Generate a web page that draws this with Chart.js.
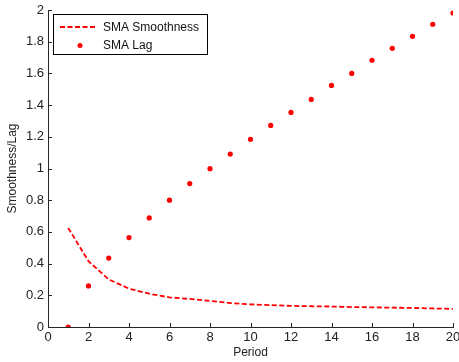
<!DOCTYPE html>
<html>
<head>
<meta charset="utf-8">
<script src="https://cdn.jsdelivr.net/npm/chart.js@4"></script>
<style>
html,body{margin:0;padding:0;background:#fff;}
#wrap{width:459px;height:362px;position:relative;}
</style>
</head>
<body>
<div id="wrap"><canvas id="c" width="459" height="362"></canvas></div>
<script>
const periods = [1,2,3,4,5,6,7,8,9,10,11,12,13,14,15,16,17,18,19,20];
const smoothness = [0.625,0.415,0.30,0.242,0.21,0.187,0.177,0.164,0.151,0.143,0.138,0.133,0.131,0.129,0.126,0.124,0.122,0.12,0.117,0.114];
const lag = [0,0.259,0.435,0.564,0.688,0.80,0.905,0.999,1.091,1.184,1.272,1.354,1.436,1.524,1.60,1.683,1.758,1.834,1.91,1.981];
const seriesNames = ['SMA Smoothness','SMA Lag'];
const xTitle = 'Period';
const yTitle = 'Smoothness/Lag';

const FONT = "'Liberation Sans', Arial, Helvetica, sans-serif";
const RED = '#ff0000';
const AXIS = '#262626';

const inwardTicks = {
  id: 'inwardTicks',
  afterDraw(chart) {
    const ctx = chart.ctx;
    const xs = chart.scales.x, ys = chart.scales.y;
    const a = chart.chartArea;
    ctx.save();
    ctx.strokeStyle = AXIS;
    ctx.lineWidth = 1;
    ctx.beginPath();
    xs.ticks.forEach(t => {
      const px = Math.round(xs.getPixelForValue(t.value)) + 0.5;
      ctx.moveTo(px, a.bottom);
      ctx.lineTo(px, a.bottom - 4);
    });
    ys.ticks.forEach(t => {
      const py = Math.round(ys.getPixelForValue(t.value)) + 0.5;
      ctx.moveTo(a.left, py);
      ctx.lineTo(a.left + 4, py);
    });
    ctx.stroke();
    ctx.restore();
  }
};

const boxLegend = {
  id: 'boxLegend',
  afterDraw(chart) {
    const ctx = chart.ctx;
    const ds = chart.data.datasets;
    const x0 = 53.5, y0 = 14.5, w = 154, h = 40;
    ctx.save();
    ctx.fillStyle = '#fff';
    ctx.fillRect(x0, y0, w, h);
    ctx.strokeStyle = '#000';
    ctx.lineWidth = 1;
    ctx.strokeRect(x0, y0, w, h);
    ctx.font = '12px ' + FONT;
    ctx.textBaseline = 'middle';
    ctx.fillStyle = '#111';
    const r1 = 27, r2 = 45.5;
    ctx.strokeStyle = ds[0].borderColor;
    ctx.lineWidth = ds[0].borderWidth;
    ctx.setLineDash(ds[0].borderDash);
    ctx.beginPath();
    ctx.moveTo(60, r1);
    ctx.lineTo(96, r1);
    ctx.stroke();
    ctx.setLineDash([]);
    ctx.fillText(ds[0].label, 103, r1 + 0.5);
    ctx.fillStyle = ds[1].pointBackgroundColor;
    ctx.beginPath();
    ctx.arc(80, r2, 2.5, 0, Math.PI * 2);
    ctx.fill();
    ctx.fillStyle = '#111';
    ctx.fillText(ds[1].label, 103, r2 + 0.5);
    ctx.restore();
  }
};

new Chart(document.getElementById('c'), {
  type: 'line',
  data: {
    datasets: [
      {
        label: seriesNames[0],
        data: periods.map((p, i) => ({x: p, y: smoothness[i]})),
        borderColor: RED,
        borderWidth: 1.8,
        borderDash: [5, 2.5],
        pointRadius: 0,
        fill: false,
        tension: 0
      },
      {
        label: seriesNames[1],
        data: periods.map((p, i) => ({x: p, y: lag[i]})),
        showLine: false,
        borderColor: RED,
        pointBackgroundColor: RED,
        pointBorderColor: RED,
        pointRadius: 2.6,
        pointBorderWidth: 0
      }
    ]
  },
  options: {
    responsive: false,
    animation: false,
    devicePixelRatio: 1,
    layout: {padding: {left: 0, right: 6, top: 10, bottom: 0}},
    plugins: {
      legend: {display: false},
      tooltip: {enabled: false}
    },
    scales: {
      x: {
        type: 'linear',
        min: 0, max: 20,
        ticks: {stepSize: 2, color: '#222', font: {family: FONT, size: 13}, padding: 3, maxRotation: 0, autoSkip: false},
        grid: {drawOnChartArea: false, drawTicks: false},
        border: {display: true, color: AXIS, width: 1},
        title: {display: true, text: xTitle, color: '#222', font: {family: FONT, size: 12}, padding: {top: 0, bottom: 2}},
        afterFit(s) { s.height = 35; s.paddingRight = 0; s.paddingLeft = 0; }
      },
      y: {
        type: 'linear',
        min: 0, max: 2,
        ticks: {stepSize: 0.2, color: '#222', font: {family: FONT, size: 13}, padding: 4,
          callback: v => (Math.round(v * 10) / 10).toString()},
        grid: {drawOnChartArea: false, drawTicks: false},
        border: {display: true, color: AXIS, width: 1},
        title: {display: true, text: yTitle, color: '#222', font: {family: FONT, size: 12}, padding: {top: 5, bottom: 0}},
        afterFit(s) { s.width = 48; s.paddingTop = 0; s.paddingBottom = 0; }
      }
    }
  },
  plugins: [inwardTicks, boxLegend]
});
</script>
</body>
</html>
